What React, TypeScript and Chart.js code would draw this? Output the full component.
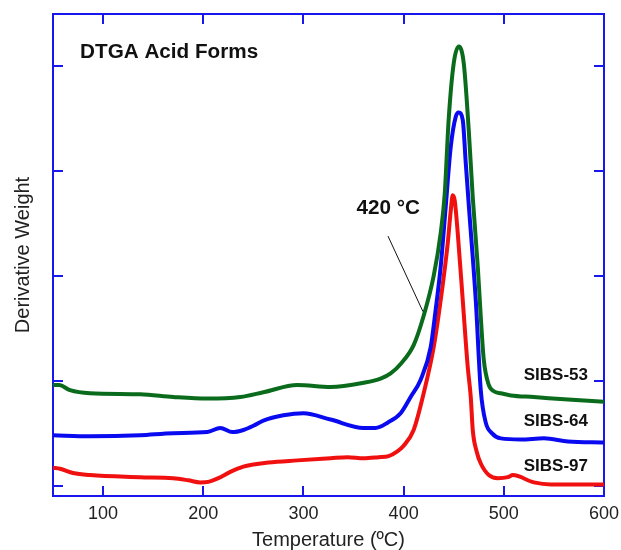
import React, { useEffect, useRef } from "react";
import { Chart, registerables } from "chart.js";

Chart.register(...registerables);

// ---------- data ----------
const X_TICKS = [100, 200, 300, 400, 500, 600];
const Y_TICKS = [0, 1, 2, 3, 4];
const SERIES_LABELS = ["SIBS-53", "SIBS-64", "SIBS-97"];
const TITLE_TEXT = "DTGA Acid Forms";
const PEAK_TEXT = "420 °C";
const X_TITLE = "Temperature (ºC)";
const Y_TITLE = "Derivative Weight";

const SIBS53_T = [50, 56, 67, 87, 137, 170, 204, 237, 260, 294, 327, 360, 377, 387, 397, 410, 420, 430, 437, 441, 445, 450, 455, 460, 465, 469, 474, 477, 480, 485, 490, 497, 507, 530, 564, 600];
const SIBS53_V = [0.96, 0.96, 0.91, 0.88, 0.87, 0.845, 0.83, 0.845, 0.89, 0.96, 0.94, 0.98, 1.02, 1.07, 1.16, 1.34, 1.62, 2.0, 2.41, 2.78, 3.5, 4.03, 4.19, 4.03, 3.39, 2.75, 2.09, 1.61, 1.2, 0.96, 0.9, 0.88, 0.86, 0.845, 0.82, 0.8];

const SIBS64_T = [50, 87, 137, 170, 204, 217, 229, 240, 250, 260, 280, 300, 327, 360, 372, 384, 397, 407, 417, 427, 432, 437, 442, 447, 452, 455, 459, 462, 465, 472, 477, 482, 488, 497, 517, 540, 564, 600];
const SIBS64_V = [0.48, 0.47, 0.48, 0.5, 0.51, 0.55, 0.51, 0.53, 0.57, 0.62, 0.67, 0.69, 0.63, 0.55, 0.55, 0.6, 0.69, 0.845, 1.01, 1.32, 1.68, 2.09, 2.66, 3.23, 3.52, 3.56, 3.49, 3.08, 2.68, 1.77, 0.91, 0.6, 0.5, 0.45, 0.44, 0.45, 0.42, 0.41];

const SIBS97_T = [50, 57, 70, 87, 137, 170, 185, 197, 205, 215, 227, 240, 250, 265, 294, 327, 344, 360, 375, 385, 393, 400, 410, 420, 430, 437, 444, 447, 449, 451, 454, 459, 464, 467, 469, 473, 477, 485, 494, 504, 509, 530, 547, 600];
const SIBS97_V = [0.17, 0.16, 0.12, 0.1, 0.08, 0.07, 0.05, 0.03, 0.035, 0.07, 0.13, 0.18, 0.2, 0.22, 0.24, 0.26, 0.27, 0.26, 0.27, 0.28, 0.32, 0.38, 0.53, 0.88, 1.32, 1.77, 2.31, 2.62, 2.77, 2.72, 2.41, 1.77, 1.13, 0.845, 0.53, 0.32, 0.21, 0.1, 0.07, 0.08, 0.1, 0.03, 0.01, 0.01];

// annotation anchors (data coordinates)
const TITLE_POS = [77, 4.13];
const PEAK_TEXT_POS = [353, 2.65];
const LEADER_FROM = [384.4, 2.38];
const LEADER_TO = [419.3, 1.66];
const LABEL_T = 584;
const LABEL_V = [1.05, 0.61, 0.18];

// ---------- styles ----------
const FONT = '"Liberation Sans", Arial, Helvetica, sans-serif';
const FRAME = "#1818ee";
const COLORS = ["#0b6b1c", "#0a0af0", "#f01010"];

const pts = (t: number[], v: number[]) => t.map((x, i) => ({ x, y: v[i] }));

const annotPlugin = {
  id: "annot",
  afterDatasetsDraw(chart: any) {
    const { ctx } = chart;
    const x = chart.scales.x;
    const y = chart.scales.y;
    ctx.save();
    ctx.fillStyle = "#111";
    ctx.textBaseline = "middle";
    ctx.textAlign = "left";
    ctx.font = `bold 20.7px ${FONT}`;
    ctx.fillText(TITLE_TEXT, x.getPixelForValue(TITLE_POS[0]), y.getPixelForValue(TITLE_POS[1]));
    ctx.fillText(PEAK_TEXT, x.getPixelForValue(PEAK_TEXT_POS[0]), y.getPixelForValue(PEAK_TEXT_POS[1]));
    ctx.strokeStyle = "#111";
    ctx.lineWidth = 1;
    ctx.beginPath();
    ctx.moveTo(x.getPixelForValue(LEADER_FROM[0]), y.getPixelForValue(LEADER_FROM[1]));
    ctx.lineTo(x.getPixelForValue(LEADER_TO[0]), y.getPixelForValue(LEADER_TO[1]));
    ctx.stroke();
    ctx.font = `bold 17px ${FONT}`;
    ctx.textAlign = "right";
    SERIES_LABELS.forEach((lab, i) => {
      ctx.fillText(lab, x.getPixelForValue(LABEL_T), y.getPixelForValue(LABEL_V[i]));
    });
    ctx.restore();
  },
};

export default function App() {
  const ref = useRef<HTMLCanvasElement>(null);
  useEffect(() => {
    if (!ref.current) return;
    const gridCommon = {
      drawOnChartArea: false,
      drawTicks: true,
      tickLength: -10,
      color: FRAME,
      lineWidth: 2,
    };
    const border = { display: true, color: FRAME, width: 2 };
    const setX = (s: any) => { s.ticks = X_TICKS.map((v) => ({ value: v })); };
    const setY = (s: any) => { s.ticks = Y_TICKS.map((v) => ({ value: v })); };
    const fitH = (h: number) => (s: any) => {
      s.height = h;
      s.paddingLeft = 0;
      s.paddingRight = 0;
      s.paddingTop = 0;
      s.paddingBottom = 0;
    };
    const fitW = (w: number) => (s: any) => {
      s.width = w;
      s.paddingLeft = 0;
      s.paddingRight = 0;
      s.paddingTop = 0;
      s.paddingBottom = 0;
    };
    const chart = new Chart(ref.current, {
      type: "line",
      data: {
        datasets: [
          { label: SERIES_LABELS[0], data: pts(SIBS53_T, SIBS53_V), borderColor: COLORS[0] },
          { label: SERIES_LABELS[1], data: pts(SIBS64_T, SIBS64_V), borderColor: COLORS[1] },
          { label: SERIES_LABELS[2], data: pts(SIBS97_T, SIBS97_V), borderColor: COLORS[2] },
        ].map((d) => ({
          ...d,
          borderWidth: 4,
          pointRadius: 0,
          fill: false,
          cubicInterpolationMode: "monotone" as const,
          xAxisID: "x",
          yAxisID: "y",
        })),
      },
      options: {
        responsive: false,
        animation: false,
        devicePixelRatio: 1,
        layout: { padding: 0 },
        plugins: { legend: { display: false }, tooltip: { enabled: false }, title: { display: false } },
        scales: {
          x: {
            type: "linear",
            position: "bottom",
            min: 50,
            max: 600,
            afterBuildTicks: setX,
            afterFit: fitH(54),
            grid: gridCommon,
            border,
            ticks: {
              autoSkip: false,
              maxRotation: 0,
              padding: 17,
              color: "#222",
              font: { family: FONT, size: 18 },
            },
            title: {
              display: true,
              text: X_TITLE,
              color: "#222",
              font: { family: FONT, size: 20, lineHeight: 1 },
              padding: { top: 0, bottom: 0 },
            },
          },
          x2: {
            type: "linear",
            position: "top",
            min: 50,
            max: 600,
            afterBuildTicks: setX,
            afterFit: fitH(14),
            grid: gridCommon,
            border,
            ticks: { display: false },
          },
          y: {
            type: "linear",
            position: "left",
            min: -0.1,
            max: 4.5,
            afterBuildTicks: setY,
            afterFit: fitW(53),
            grid: gridCommon,
            border,
            ticks: { display: false },
            title: {
              display: true,
              text: Y_TITLE,
              color: "#222",
              font: { family: FONT, size: 20, lineHeight: 1 },
              padding: { top: 13, bottom: 0 },
            },
          },
          y2: {
            type: "linear",
            position: "right",
            min: -0.1,
            max: 4.5,
            afterBuildTicks: setY,
            afterFit: fitW(17),
            grid: gridCommon,
            border,
            ticks: { display: false },
          },
        },
      },
      plugins: [annotPlugin],
    } as any);
    return () => chart.destroy();
  }, []);
  return (
    <div style={{ position: "fixed", left: 0, top: 0, width: 621, height: 550, background: "#fff" }}>
      <canvas ref={ref} width={621} height={550} style={{ display: "block", width: 621, height: 550 }} />
    </div>
  );
}
